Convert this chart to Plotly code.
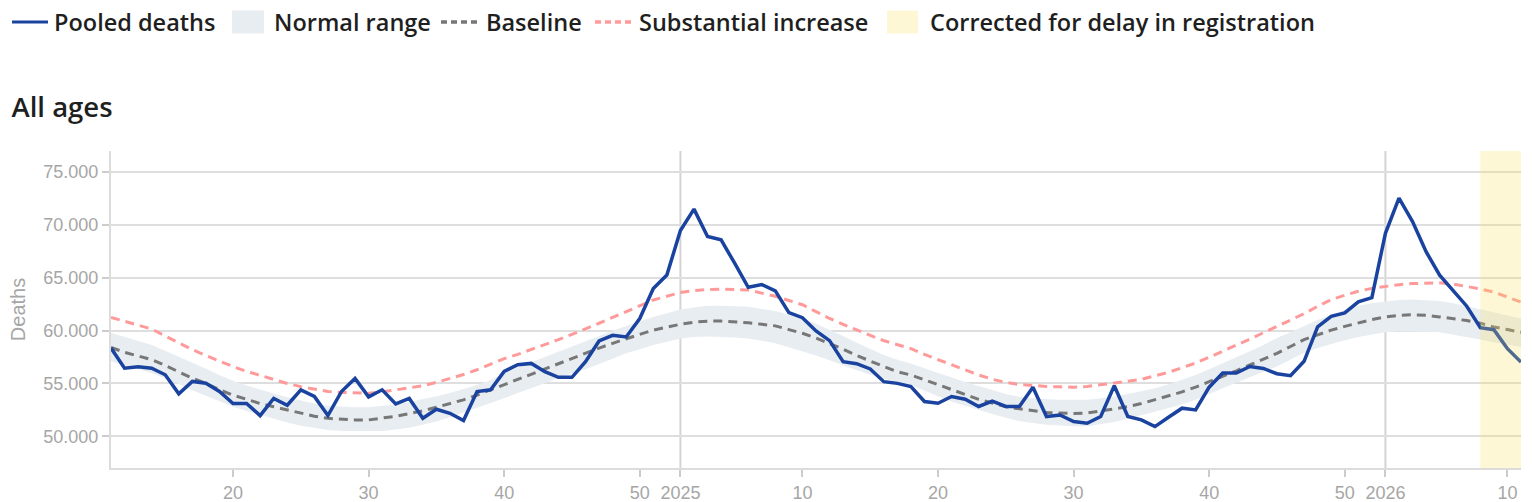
import plotly.graph_objects as go

# ---------------- data ----------------
weeks_2024 = list(range(11, 53))
weeks_2025 = list(range(1, 53))
weeks_2026 = list(range(1, 12))

pooled_deaths = [
    58350, 56450, 56580, 56450, 55820, 54020, 55190, 55030, 54240, 53100,
    53100, 51960, 53580, 52940, 54400, 53770, 51960, 54240, 55470, 53730,
    54400, 53070, 53580, 51710, 52560, 52180, 51490, 54240, 54400, 56140,
    56780, 56900, 56120, 55580, 55580, 57060, 59020, 59560, 59400, 61140,
    63980, 65270, 69470, 71500, 68910, 68590, 66380, 64100, 64360, 63760,
    61700, 61230, 59970, 59050, 57060, 56870, 56370, 55170, 55010, 54700,
    53290, 53130, 53770, 53510, 52820, 53320, 52820, 52820, 54650, 51870,
    52020, 51390, 51230, 51870, 54780, 51870, 51550, 50920, 51800, 52660,
    52500, 54650, 55980, 55980, 56610, 56420, 55920, 55730, 57100, 60350,
    61360, 61680, 62720, 63130, 69210, 72530, 70320, 67470, 65250, 63730,
    62310, 60280, 60090, 58290, 57020,
]

baseline = [
    58400, 57950, 57600, 57250, 56700, 56100, 55500, 55000, 54400, 53900,
    53500, 53100, 52800, 52500, 52200, 51900, 51700, 51600, 51550, 51550,
    51700, 51900, 52150, 52400, 52750, 53100, 53450, 53900, 54400, 54900,
    55350, 55850, 56350, 56850, 57350, 57850, 58350, 58800, 59250, 59650,
    60050, 60350, 60600, 60800, 60900, 60900, 60850, 60750, 60600, 60450,
    60100, 59750, 59300, 58800, 58250, 57650, 57100, 56600, 56100, 55800,
    55350, 54900, 54400, 53950, 53500, 53150, 52800, 52600, 52400, 52250,
    52200, 52150, 52200, 52400, 52550, 52800, 53100, 53450, 53800, 54200,
    54650, 55150, 55650, 56200, 56750, 57300, 57850, 58500, 59150, 59600,
    60050, 60400, 60750, 61050, 61300, 61450, 61500, 61450, 61300, 61150,
    60950, 60700, 60350, 60100, 59850,
]

normal_upper = [
    59800, 59400, 59050, 58650, 58100, 57550, 56950, 56400, 55800, 55250,
    54800, 54400, 54050, 53700, 53400, 53100, 52900, 52800, 52750, 52750,
    52850, 53000, 53250, 53500, 53800, 54100, 54450, 54850, 55300, 56000,
    56500, 57000, 57500, 58000, 58500, 59050, 59550, 60000, 60450, 60900,
    61300, 61650, 62000, 62200, 62350, 62350, 62300, 62250, 62050, 61850,
    61500, 61150, 60650, 60100, 59500, 58850, 58250, 57700, 57250, 56900,
    56450, 56000, 55600, 55150, 54750, 54350, 54000, 53750, 53600, 53500,
    53450, 53450, 53450, 53600, 53750, 54000, 54250, 54550, 54900, 55350,
    55800, 56350, 56900, 57450, 58050, 58650, 59300, 59850, 60450, 61000,
    61450, 61950, 62350, 62600, 62750, 62900, 62950, 62900, 62800, 62600,
    62300, 62000, 61700, 61400, 61150,
]

normal_lower = [
    57100, 56700, 56350, 56000, 55500, 54950, 54350, 53850, 53300, 52800,
    52400, 52000, 51650, 51300, 51000, 50800, 50600, 50500, 50500, 50500,
    50500, 50650, 50800, 51100, 51400, 51800, 52200, 52650, 53150, 53600,
    54100, 54550, 55000, 55500, 55950, 56350, 56850, 57350, 57850, 58250,
    58650, 58950, 59250, 59400, 59450, 59400, 59350, 59250, 59050, 58800,
    58450, 58050, 57650, 57200, 56750, 56250, 55850, 55450, 55100, 54850,
    54300, 53800, 53300, 52900, 52500, 52100, 51750, 51450, 51250, 51100,
    51000, 50950, 50950, 51150, 51350, 51650, 52000, 52350, 52650, 53000,
    53450, 54000, 54550, 55050, 55600, 56100, 56600, 57250, 57900, 58350,
    58750, 59100, 59400, 59650, 59850, 59950, 59950, 59900, 59850, 59650,
    59400, 59150, 58900, 58650, 58450,
]

substantial_increase = [
    61250, 60900, 60550, 60150, 59500, 58850, 58200, 57650, 57100, 56600,
    56150, 55750, 55350, 55000, 54700, 54450, 54250, 54150, 54100, 54080,
    54200, 54400, 54550, 54780, 55100, 55450, 55850, 56300, 56800, 57350,
    57750, 58200, 58650, 59150, 59650, 60150, 60700, 61250, 61800, 62350,
    62900, 63250, 63600, 63800, 63900, 63920, 63900, 63850, 63550, 63250,
    62850, 62450, 61800, 61150, 60600, 60050, 59550, 59050, 58650, 58300,
    57750, 57250, 56750, 56250, 55800, 55400, 55100, 54900, 54780, 54720,
    54680, 54650, 54720, 54870, 55030, 55200, 55400, 55700, 56050, 56500,
    56930, 57480, 58040, 58620, 59200, 59800, 60400, 61000, 61600, 62300,
    62940, 63350, 63730, 64000, 64200, 64350, 64450, 64500, 64520, 64400,
    64200, 63950, 63650, 63200, 62700,
]

delay_start = (2026, 8)   # first week corrected for delay in registration
y_ticks = [50000, 55000, 60000, 65000, 70000, 75000]
y_range = [47000, 77000]

# ---------------- layout constants ----------------
W, H = 1532, 502
ML, MR, MT, MB = 111, 11, 151, 34
PW, PH = W - ML - MR, H - MT - MB

def px(xp):   # page pixel -> paper x
    return (xp - ML) / PW

def py(yp):   # page pixel -> paper y
    return (H - MB - yp) / PH

BLUE = "#1a43a0"
BAND = "#e8edf2"
BASE_C = "#777777"
SUBST_C = "#ff9a9a"
YELLOW = "rgba(248,225,90,0.25)"
GREY_TXT = "#a6a6a6"
TXT_FAMILY = "Open Sans, Noto Sans, sans-serif"
TICK_FAMILY = "Liberation Sans, Arial, sans-serif"

# ---------------- derived axis positions ----------------
year_week = [(2024, w) for w in weeks_2024] + [(2025, w) for w in weeks_2025] + [(2026, w) for w in weeks_2026]
x = list(range(len(year_week)))
tickvals, ticktext = [], []
for i, (yr, wk) in enumerate(year_week):
    if wk == 1:
        tickvals.append(i); ticktext.append(str(yr))
    elif wk % 10 == 0:
        tickvals.append(i); ticktext.append(str(wk))
year_starts = [i for i, (yr, wk) in enumerate(year_week) if wk == 1]
delay_idx = year_week.index(delay_start)

fig = go.Figure()

fig.add_trace(go.Scatter(
    x=x + x[::-1], y=normal_upper + normal_lower[::-1],
    fill="toself", fillcolor=BAND, line=dict(width=0),
    mode="lines", name="Normal range", showlegend=False, hoverinfo="skip",
))
fig.add_trace(go.Scatter(
    x=x, y=baseline, mode="lines", name="Baseline", showlegend=False,
    line=dict(color=BASE_C, width=3, dash="9px,6px"),
))
fig.add_trace(go.Scatter(
    x=x, y=substantial_increase, mode="lines", name="Substantial increase", showlegend=False,
    line=dict(color=SUBST_C, width=3, dash="9px,6px"),
))
fig.add_trace(go.Scatter(
    x=x, y=pooled_deaths, mode="lines", name="Pooled deaths", showlegend=False,
    line=dict(color=BLUE, width=3.5),
))

# year boundary lines
for xi in year_starts:
    fig.add_shape(type="line", x0=xi, x1=xi, yref="paper", y0=0, y1=1,
                  line=dict(color="#d4d4d4", width=2), layer="below")

# corrected-for-delay region
fig.add_shape(type="rect", x0=delay_idx, x1=x[-1], yref="paper", y0=0, y1=1,
              fillcolor=YELLOW, line=dict(width=0), layer="above")

# ---------------- legend (drawn as shapes + text) ----------------
legend_items = [
    # (label, kind, colour, symbol-left px, symbol-right px, text-left px)
    ("Pooled deaths", "line", BLUE, 12, 48, 54),
    ("Normal range", "box", BAND, 232, 264, 274),
    ("Baseline", "dots", BASE_C, 441, 478, 486),
    ("Substantial increase", "dots", SUBST_C, 595, 632, 639),
    ("Corrected for delay in registration", "box", YELLOW, 887, 918, 930),
]
LEG_Y = 22
for label, kind, col, s0, s1, t0 in legend_items:
    if kind == "line":
        fig.add_shape(type="line", xref="paper", yref="paper", x0=px(s0), x1=px(s1),
                      y0=py(LEG_Y), y1=py(LEG_Y), line=dict(color=col, width=3))
    elif kind == "dots":
        fig.add_shape(type="line", xref="paper", yref="paper", x0=px(s0), x1=px(s1),
                      y0=py(LEG_Y), y1=py(LEG_Y), line=dict(color=col, width=3.5, dash="6px,4px"))
    else:
        fig.add_shape(type="rect", xref="paper", yref="paper", x0=px(s0), x1=px(s1),
                      y0=py(LEG_Y - 11.5), y1=py(LEG_Y + 11.5), fillcolor=col, line=dict(width=0))
    fig.add_annotation(text=label, xref="paper", yref="paper", x=px(t0 - 1), y=py(LEG_Y),
                       xanchor="left", yanchor="middle", showarrow=False, borderpad=0,
                       font=dict(family=TXT_FAMILY, size=23.5, color="#1f1f1f", weight=600))

fig.update_layout(
    width=W, height=H,
    margin=dict(l=ML, r=MR, t=MT, b=MB, autoexpand=False),
    paper_bgcolor="white", plot_bgcolor="white",
    separators=",.",
    showlegend=False,
    title=dict(text="All ages", xref="container", yref="container", x=11.5 / W, y=1 - 107 / H,
               xanchor="left", yanchor="middle", pad=dict(l=0, r=0, t=0, b=0),
               font=dict(family=TXT_FAMILY, size=27.5, color="#1f1f1f", weight=600)),
    xaxis=dict(range=[x[0], x[-1]], tickmode="array", tickvals=tickvals, ticktext=ticktext,
               automargin=False,
               showgrid=False, zeroline=False, showline=True, linecolor="#dcdcdc", linewidth=2,
               ticks="outside", ticklen=7, tickcolor="#cccccc", tickwidth=1.5,
               tickfont=dict(family=TICK_FAMILY, size=18, color=GREY_TXT)),
    yaxis=dict(range=y_range, tickmode="array", tickvals=y_ticks, tickformat=",d",
               automargin=False,
               showgrid=True, gridcolor="#dedede", gridwidth=2, zeroline=False,
               showline=True, linecolor="#dcdcdc", linewidth=2,
               ticks="outside", ticklen=7, tickcolor="#cccccc", tickwidth=1.5,
               tickfont=dict(family=TICK_FAMILY, size=18, color=GREY_TXT),
               title=dict(text="Deaths", standoff=12,
                          font=dict(family=TICK_FAMILY, size=20, color=GREY_TXT))),
)

# the page's default 8px body margin would shift the figure; remove it
fig.write_html("out.html",
               config={"displayModeBar": False},
               post_script="document.body.style.margin='0';document.body.style.overflow='hidden';")
